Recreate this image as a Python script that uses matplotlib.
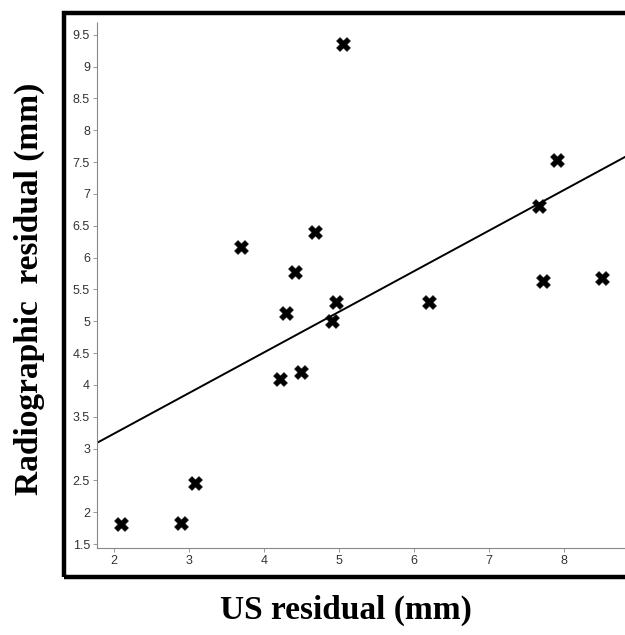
import numpy as np
import matplotlib
matplotlib.use("Agg")
from matplotlib import pyplot as plt
from matplotlib.patches import Rectangle

# datos
us_residual = [2.09, 2.89, 3.08, 3.69, 4.29, 4.41, 4.21, 4.49, 4.68, 5.05,
               4.96, 4.90, 6.20, 7.67, 7.91, 7.72, 8.51]
rad_residual = [1.81, 1.83, 2.46, 6.17, 5.13, 5.78, 4.09, 4.20, 6.41, 9.35,
                5.30, 5.01, 5.30, 6.81, 7.54, 5.64, 5.68]
fit_slope = 0.638
fit_intercept = 1.96
xticks = [2, 3, 4, 5, 6, 7, 8]
yticks = [1.5, 2, 2.5, 3, 3.5, 4, 4.5, 5, 5.5, 6, 6.5, 7, 7.5, 8, 8.5, 9, 9.5]

W, H = 625, 635
fig = plt.figure(figsize=(W / 100, H / 100), dpi=100)

# marco grueso exterior
fig.patches.append(Rectangle((64 / W, 1 - 577 / H), 0.99, (577 - 13) / H,
                             transform=fig.transFigure, fill=False,
                             edgecolor="black", linewidth=3.2, zorder=0))

ax = fig.add_axes([97 / W, 1 - 548 / H, 1 - 97 / W, (548 - 22) / H])
ax.set_xlim(1.773, 8.81)
ax.set_ylim(1.44, 9.70)

ax.scatter(us_residual, rad_residual, marker="X", s=100, color="black",
           edgecolors="black", linewidths=0.4, zorder=3)

xl = np.array(ax.get_xlim())
ax.plot(xl, fit_slope * xl + fit_intercept, color="black", lw=1.4, zorder=2)

for s in ["top", "right"]:
    ax.spines[s].set_visible(False)
ax.spines["left"].set_color("#888888")
ax.spines["left"].set_linestyle((0, (2, 1)))
ax.spines["left"].set_linewidth(0.8)
ax.spines["bottom"].set_color("#888888")
ax.spines["bottom"].set_linewidth(0.8)

ax.set_xticks(xticks)
ax.set_yticks(yticks)
ax.set_xticklabels([str(t) for t in xticks])
ax.set_yticklabels([("%g" % t) for t in yticks])
ax.tick_params(length=3, width=0.6, color="#888888", labelsize=9,
               labelcolor="#333333", pad=2)
for lab in ax.get_xticklabels() + ax.get_yticklabels():
    lab.set_family("Liberation Sans")

fig.text(29 / W, 1 - 289 / H, "Radiographic  residual (mm)", rotation=90,
         ha="center", va="center", family="Liberation Serif",
         fontweight="bold", fontsize=24)
fig.text(346 / W, 1 - 610 / H, "US residual (mm)", ha="center", va="center",
         family="Liberation Serif", fontweight="bold", fontsize=24)

plt.savefig("out.png", dpi=100)
